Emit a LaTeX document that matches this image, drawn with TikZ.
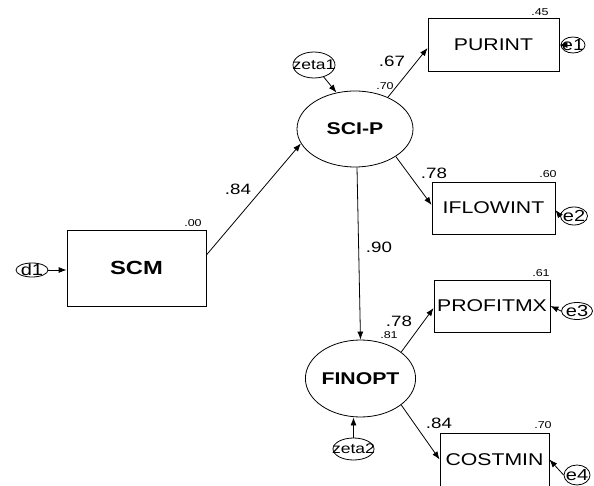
\documentclass[tikz,border=0pt]{standalone}
\usepackage{fontspec}
\setmainfont{Liberation Sans}[FakeStretch=1.25]
\usetikzlibrary{arrows.meta,shapes.geometric}

\begin{document}
\begin{tikzpicture}[x=1pt,y=-1pt,line width=0.8pt,>={Latex[length=8pt,width=6pt]},
  obs/.style={draw,rectangle,inner sep=0,font=\fontsize{17}{17}\selectfont},
  lat/.style={draw,ellipse,inner sep=0,font=\bfseries\fontsize{17}{17}\selectfont},
  err/.style={draw,ellipse,inner sep=0,label={[inner sep=0,font=\fontsize{16}{16}\selectfont]center:#1}},
  dist/.style={draw,ellipse,inner sep=0,label={[inner sep=0,font=\fontsize{14}{14}\selectfont]center:#1}},
  coef/.style={inner sep=0,font=\fontsize{15}{15}\selectfont},
  rsq/.style={inner sep=0,font=\fontsize{10}{10}\selectfont}]
\useasboundingbox (0,0) rectangle (594,486);

% exogenous block
\node[obs,minimum width=139pt,minimum height=76pt,font=\bfseries\fontsize{19}{19}\selectfont] (SCM) at (136.5,268) {SCM};
\node[err=d1,minimum width=32pt,minimum height=14pt] (d1) at (32,270) {};

% latent factors
\node[lat,minimum width=116pt,minimum height=76pt] (SCIP) at (355,129) {SCI-P};
\node[lat,minimum width=103pt,minimum height=77pt] (FINOPT) at (360.5,378.5) {FINOPT};
\node[dist=zeta1,minimum width=42pt,minimum height=26pt] (zeta1) at (314,65) {};
\node[dist=zeta2,minimum width=41pt,minimum height=22pt] (zeta2) at (353.5,449) {};

% indicators
\node[obs,minimum width=131pt,minimum height=53pt] (PURINT) at (493.5,44.5) {PURINT};
\node[obs,minimum width=123pt,minimum height=52pt] (IFLOWINT) at (493.5,208) {IFLOWINT};
\node[obs,minimum width=116pt,minimum height=52pt] (PROFITMX) at (492,306) {PROFITMX};
\node[obs,minimum width=109pt,minimum height=53pt] (COSTMIN) at (494.5,459.5) {COSTMIN};
\node[err=e1,minimum width=24pt,minimum height=16pt] (e1) at (573,45) {};
\node[err=e2,minimum width=27pt,minimum height=18pt] (e2) at (574,216) {};
\node[err=e3,minimum width=31pt,minimum height=17pt] (e3) at (577,311) {};
\node[err=e4,minimum width=26pt,minimum height=20pt] (e4) at (577,475) {};

% paths
\draw[->] (d1.east) -- (d1.east -| SCM.west);
\draw[->] ([yshift=13pt]SCM.east) -- (SCIP.195);
\draw[->] (zeta1) -- (SCIP.117);
\draw[->] (SCIP.44) -- ([yshift=-3.5pt]PURINT.west);
\draw[->] (SCIP.-34) -- ([yshift=3pt]IFLOWINT.west);
\draw[->] ([xshift=2pt]SCIP.south) -- (FINOPT.north);
\draw[->] (FINOPT.33) -- ([yshift=-2pt]PROFITMX.west);
\draw[->] (FINOPT.-33) -- (COSTMIN.west);
\draw[->] (zeta2.north) -- (zeta2.north |- FINOPT.south);
\draw[->] (e1.west) -- (e1.west -| PURINT.east);
\draw[->] (e2.west) -- ([yshift=-2pt]IFLOWINT.east);
\draw[->] (e3.west) -- (PROFITMX.east);
\draw[->] (e4.west) -- (COSTMIN.east);

% estimates
\node[coef] (cSCM) at (238,189) {.84};
\node[coef] (cPUR) at (392,61) {.67};
\node[coef] (cIFL) at (434,173) {.78};
\node[coef] (cFIN) at (379,247) {.90};
\node[coef] (cPRO) at (399,321) {.78};
\node[coef] (cCOS) at (439,423) {.84};
\node[rsq] (rSCM) at (193,223) {.00};
\node[rsq] (rSCIP) at (385,86) {.70};
\node[rsq] (rFIN) at (389,335) {.81};
\node[rsq] (rPUR) at (540,12) {.45};
\node[rsq] (rIFL) at (548,174) {.60};
\node[rsq] (rPRO) at (541,273) {.61};
\node[rsq] (rCOS) at (543,425) {.70};
\end{tikzpicture}
\end{document}
